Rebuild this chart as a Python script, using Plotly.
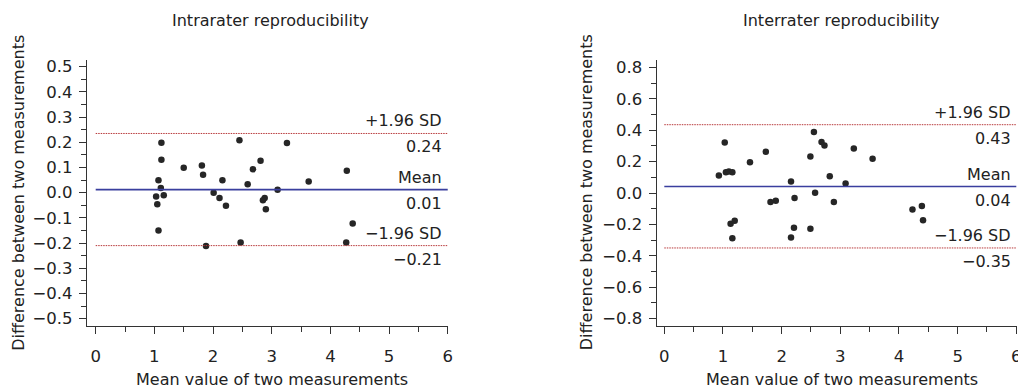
import plotly.graph_objects as go

# ---------------- data ----------------
intra_x = [1.12, 1.12, 1.07, 1.11, 1.03, 1.16, 1.05, 1.07, 1.50, 1.81, 1.83, 1.88, 2.01, 2.11, 2.16,
           2.22, 2.45, 2.47, 2.59, 2.68, 2.81, 2.88, 2.85, 2.90, 3.10, 3.26, 3.63, 4.28, 4.38, 4.27]
intra_y = [0.198, 0.131, 0.049, 0.019, -0.015, -0.010, -0.046, -0.150, 0.099, 0.108, 0.071, -0.212, 0.000,
           -0.021, 0.049, -0.052, 0.208, -0.198, 0.034, 0.093, 0.127, -0.021, -0.030, -0.066, 0.012,
           0.197, 0.044, 0.087, -0.122, -0.198]
intra_stats = [0.235, 0.012, -0.210]          # +1.96 SD, mean, -1.96 SD
intra_stat_labels = ["0.24", "0.01", "\u22120.21"]

inter_x = [0.93, 1.03, 1.05, 1.10, 1.16, 1.13, 1.20, 1.16, 1.46, 1.73, 1.81, 1.90, 2.16, 2.22, 2.21,
           2.16, 2.49, 2.49, 2.55, 2.57, 2.68, 2.73, 2.82, 2.89, 3.09, 3.23, 3.55, 4.23, 4.39, 4.41]
inter_y = [0.111, 0.322, 0.132, 0.137, 0.132, -0.196, -0.177, -0.288, 0.196, 0.262, -0.058, -0.049,
           0.073, -0.032, -0.222, -0.284, 0.233, -0.228, 0.388, 0.002, 0.324, 0.303, 0.107, -0.058,
           0.060, 0.284, 0.218, -0.105, -0.083, -0.173]
inter_stats = [0.435, 0.041, -0.350]
inter_stat_labels = ["0.43", "0.04", "\u22120.35"]

stat_names = ["+1.96 SD", "Mean", "\u22121.96 SD"]
titles = ["Intrarater reproducibility", "Interrater reproducibility"]
x_title = "Mean value of two measurements"
y_title = "Difference between two measurements"

W, H = 1018, 388
FONT = "DejaVu Sans"
TXT = "#222222"
BLUE = "#3a3f9e"
RED = "#b8383a"

fig = go.Figure()

panels = [
    dict(xa="x", ya="y", xs=intra_x, ys=intra_y, stats=intra_stats, labels=intra_stat_labels),
    dict(xa="x2", ya="y2", xs=inter_x, ys=inter_y, stats=inter_stats, labels=inter_stat_labels),
]

for p in panels:
    fig.add_trace(go.Scatter(x=p["xs"], y=p["ys"], mode="markers", xaxis=p["xa"], yaxis=p["ya"],
                             marker=dict(size=6.5, color="#262626"), showlegend=False,
                             hoverinfo="skip"))
    for i, v in enumerate(p["stats"]):
        if i == 1:
            line = dict(color=BLUE, width=1.6)
        else:
            line = dict(color=RED, width=1, dash="1.5px,1px")
        fig.add_trace(go.Scatter(x=[0, 6], y=[v, v], mode="lines", xaxis=p["xa"], yaxis=p["ya"],
                                 line=line, showlegend=False, hoverinfo="skip"))
        fig.add_annotation(x=6, y=v, xref=p["xa"], yref=p["ya"], text=stat_names[i],
                           xanchor="right", yanchor="middle", xshift=-3.5, yshift=12.5,
                           showarrow=False, font=dict(family=FONT, size=16, color=TXT))
        fig.add_annotation(x=6, y=v, xref=p["xa"], yref=p["ya"], text=p["labels"][i],
                           xanchor="right", yanchor="middle", xshift=-3.5, yshift=-13.5,
                           showarrow=False, font=dict(family=FONT, size=16, color=TXT))


def px2x(px):
    return px / W


def px2y(py):
    return 1 - py / H


ydom = [px2y(326), px2y(60)]
axis_common = dict(showline=True, linecolor="#333333", linewidth=1, ticks="outside", ticklen=7,
                   tickwidth=1, tickcolor="#333333", showgrid=False, zeroline=False,
                   tickfont=dict(family=FONT, size=16.5, color=TXT), automargin=False,
                   ticklabeloverflow="allow")
PXU = 58.67  # pixels per x unit

fig.update_layout(
    width=W, height=H, margin=dict(l=0, r=0, t=0, b=0),
    paper_bgcolor="white", plot_bgcolor="white",
    xaxis=dict(domain=[px2x(95.7 - 0.15 * PXU), px2x(95.7 + 6.005 * PXU)], range=[-0.15, 6.005],
               anchor="y", tickvals=[0, 1, 2, 3, 4, 5, 6], ticklabelstandoff=8,
               minor=dict(dtick=0.5, tick0=0, ticklen=5, ticks="outside", tickcolor="#333333"),
               **axis_common),
    yaxis=dict(domain=ydom, range=[-0.529, 0.5266], anchor="x", dtick=0.1, tick0=0,
               tickformat=".1f", ticklabelstandoff=3,
               minor=dict(dtick=0.05, tick0=0, ticklen=5, ticks="outside", tickcolor="#333333"),
               **axis_common),
    xaxis2=dict(domain=[px2x(664.3 - 0.13 * PXU), px2x(664.3 + 6.01 * PXU)], range=[-0.13, 6.01],
                anchor="y2", tickvals=[0, 1, 2, 3, 4, 5, 6], ticklabelstandoff=8,
                minor=dict(dtick=0.5, tick0=0, ticklen=5, ticks="outside", tickcolor="#333333"),
                **axis_common),
    yaxis2=dict(domain=ydom, range=[-0.847, 0.847], anchor="x2", dtick=0.2, tick0=0,
                tickformat=".1f", ticklabelstandoff=3,
                minor=dict(dtick=0.1, tick0=0, ticklen=5, ticks="outside", tickcolor="#333333"),
                **axis_common),
)

# titles and axis titles
for cx, ycx, t in [(270.7, 18.3, titles[0]), (840.5, 586.7, titles[1])]:
    fig.add_annotation(x=px2x(cx), y=px2y(20.5), xref="paper", yref="paper", text=t,
                       showarrow=False, xanchor="center", yanchor="middle",
                       font=dict(family=FONT, size=16, color=TXT))
    fig.add_annotation(x=px2x(cx + 1), y=px2y(379), xref="paper", yref="paper", text=x_title,
                       showarrow=False, xanchor="center", yanchor="middle",
                       font=dict(family=FONT, size=16, color=TXT))
    fig.add_annotation(x=px2x(ycx), y=px2y(192.5), xref="paper", yref="paper", text=y_title,
                       showarrow=False, xanchor="center", yanchor="middle", textangle=-90,
                       font=dict(family=FONT, size=16, color=TXT))

fig.write_html("out.html", config={"displayModeBar": False},
               post_script="document.body.style.margin='0';document.body.style.overflow='hidden';")
